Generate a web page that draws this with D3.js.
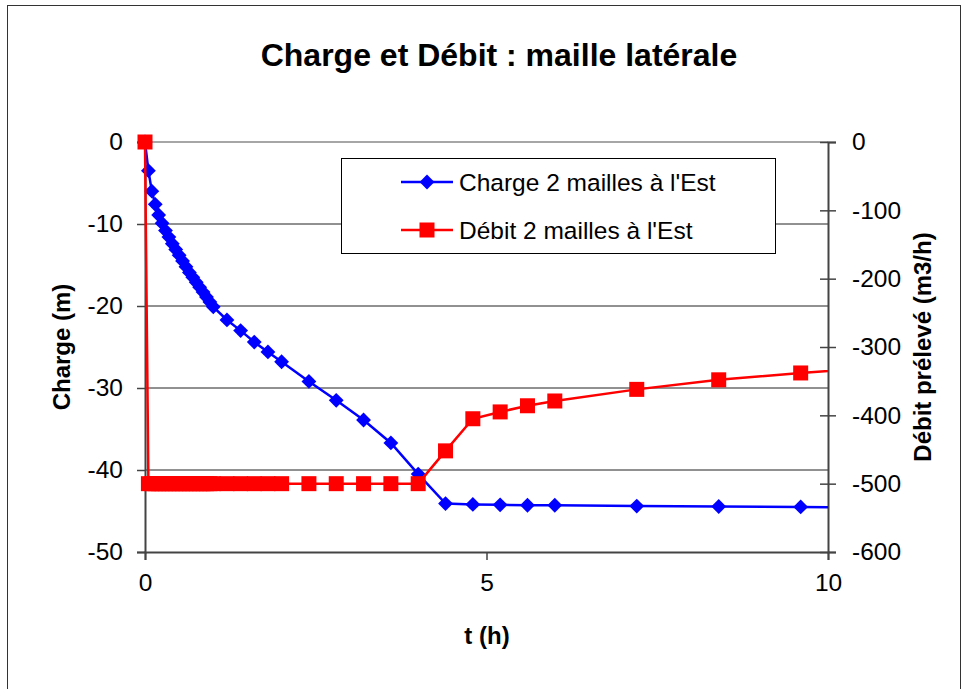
<!DOCTYPE html>
<html>
<head>
<meta charset="utf-8">
<script src="https://cdn.jsdelivr.net/npm/d3@7"></script>
<style>
html,body{margin:0;padding:0;background:#fff;}
svg{display:block;font-family:"Liberation Sans",Arial,sans-serif;}
</style>
</head>
<body>
<script>
// ---- data ----
const tCharge = [0, 0.05, 0.1, 0.15, 0.2, 0.25, 0.3, 0.35, 0.4, 0.45, 0.5, 0.55, 0.6, 0.65, 0.7, 0.75, 0.8, 0.85, 0.9, 0.95, 1.0,
  1.2, 1.4, 1.6, 1.8, 2.0, 2.4, 2.8, 3.2, 3.6, 4.0, 4.4, 4.8, 5.2, 5.6, 6.0, 7.2, 8.4, 9.6, 10.8];
const chargeValues = [0, -3.5, -6.0, -7.6, -8.9, -9.9, -10.8, -11.6, -12.4, -13.1, -13.8, -14.5, -15.2, -15.9, -16.5, -17.1, -17.7, -18.3, -18.9, -19.5, -20.1,
  -21.7, -23.0, -24.4, -25.6, -26.8, -29.2, -31.5, -33.9, -36.7, -40.5, -44.1, -44.2, -44.25, -44.3, -44.3, -44.4, -44.45, -44.5, -44.6];
const tDebit = [0, 0.05, 0.1, 0.15, 0.2, 0.25, 0.3, 0.35, 0.4, 0.45, 0.5, 0.55, 0.6, 0.65, 0.7, 0.75, 0.8, 0.85, 0.9, 0.95, 1.0,
  1.2, 1.4, 1.6, 1.8, 2.0, 2.4, 2.8, 3.2, 3.6, 4.0, 4.4, 4.8, 5.2, 5.6, 6.0, 7.2, 8.4, 9.6, 10.8];
const debitValues = [0, -500, -500, -500, -500, -500, -500, -500, -500, -500, -500, -500, -500, -500, -500, -500, -500, -500, -500, -500, -500,
  -500, -500, -500, -500, -500, -500, -500, -500, -500, -500, -452, -405, -395, -386, -379, -362, -348, -338, -329];
const xTicks = [0, 5, 10];
const yLeftTicks = [0, -10, -20, -30, -40, -50];
const yRightTicks = [0, -100, -200, -300, -400, -500, -600];
const seriesNames = ["Charge 2 mailles à l'Est", "Débit 2 mailles à l'Est"];
const titleText = "Charge et Débit : maille latérale";

// ---- layout ----
const W = 969, H = 689;
const L = 145, R = 828, T = 142, B = 552;
const blue = "#0000ff", red = "#ff0000";

const svg = d3.select("body").append("svg").attr("width", W).attr("height", H);
svg.append("rect").attr("x", 7.5).attr("y", 5.5).attr("width", 953).attr("height", 700)
  .attr("fill", "#fff").attr("stroke", "#333").attr("stroke-width", 1);

const x = d3.scaleLinear().domain([0, 10]).range([L, R]);
const yL = d3.scaleLinear().domain([-50, 0]).range([B, T]);
const yR = d3.scaleLinear().domain([-600, 0]).range([B, T]);

// gridlines
svg.append("g").selectAll("line").data(yLeftTicks.filter(d => d !== -50)).join("line")
  .attr("x1", L).attr("x2", R).attr("y1", d => yL(d)).attr("y2", d => yL(d))
  .attr("stroke", d => d === 0 ? "#888" : "#222").attr("stroke-width", d => d === 0 ? 1.5 : 1);

// axes
const fmt = d => String(d);
const gx = svg.append("g").attr("transform", `translate(0,${B})`)
  .call(d3.axisBottom(x).tickValues(xTicks).tickFormat(fmt).tickSize(8).tickPadding(14));
const gl = svg.append("g").attr("transform", `translate(${L},0)`)
  .call(d3.axisLeft(yL).tickValues(yLeftTicks).tickFormat(fmt).tickSize(8).tickPadding(14));
const gr = svg.append("g").attr("transform", `translate(${R},0)`)
  .call(d3.axisRight(yR).tickValues(yRightTicks).tickFormat(fmt).tickSize(8).tickPadding(16));
gr.selectAll(".tick line").attr("x1", -8);
[gx, gl, gr].forEach(g => {
  g.select(".domain").attr("stroke", "#444").attr("stroke-width", 2);
  g.selectAll(".tick line").attr("stroke", "#444").attr("stroke-width", 1.5);
  g.selectAll(".tick text").attr("font-size", 24.5).attr("fill", "#000")
    .attr("font-family", "Liberation Sans, Arial, sans-serif");
});

// clip
svg.append("clipPath").attr("id", "clip").append("rect")
  .attr("x", L - 10).attr("y", T - 10).attr("width", R - L + 10).attr("height", B - T + 20);
const plot = svg.append("g").attr("clip-path", "url(#clip)");

const chargeData = tCharge.map((t, i) => ({t, v: chargeValues[i]}));
const debitData = tDebit.map((t, i) => ({t, v: debitValues[i]}));

const lineC = d3.line().x(d => x(d.t)).y(d => yL(d.v));
const lineD = d3.line().x(d => x(d.t)).y(d => yR(d.v));

plot.append("path").datum(chargeData).attr("d", lineC).attr("fill", "none")
  .attr("stroke", blue).attr("stroke-width", 2.5);
plot.append("g").selectAll("path").data(chargeData.filter(d => d.t <= 10)).join("path")
  .attr("d", d3.symbol().type(d3.symbolSquare).size(110))
  .attr("transform", d => `translate(${x(d.t)},${yL(d.v)}) rotate(45)`)
  .attr("fill", blue);

plot.append("path").datum(debitData).attr("d", lineD).attr("fill", "none")
  .attr("stroke", red).attr("stroke-width", 2.5);
plot.append("g").selectAll("rect").data(debitData.filter(d => d.t <= 10)).join("rect")
  .attr("x", d => x(d.t) - 7.5).attr("y", d => yR(d.v) - 7.5)
  .attr("width", 15).attr("height", 15).attr("fill", red);

// legend
const lg = svg.append("g");
lg.append("rect").attr("x", 341.5).attr("y", 158.5).attr("width", 434).attr("height", 95)
  .attr("fill", "#fff").attr("stroke", "#000").attr("stroke-width", 1);
const rows = [{name: seriesNames[0], c: blue, y: 182, m: "d"}, {name: seriesNames[1], c: red, y: 230, m: "s"}];
rows.forEach(r => {
  lg.append("line").attr("x1", 401).attr("x2", 453).attr("y1", r.y).attr("y2", r.y)
    .attr("stroke", r.c).attr("stroke-width", 2.5);
  if (r.m === "d") {
    lg.append("path").attr("d", d3.symbol().type(d3.symbolSquare).size(110))
      .attr("transform", `translate(427,${r.y}) rotate(45)`).attr("fill", r.c);
  } else {
    lg.append("rect").attr("x", 419.5).attr("y", r.y - 7.5).attr("width", 15).attr("height", 15).attr("fill", r.c);
  }
  lg.append("text").attr("x", 459).attr("y", r.y).attr("dy", "0.35em")
    .attr("font-size", 24.5).attr("fill", "#000").text(r.name);
});

// titles
svg.append("text").attr("x", 499).attr("y", 55).attr("dy", "0.35em").attr("text-anchor", "middle")
  .attr("font-size", 32).attr("font-weight", "bold").text(titleText);
svg.append("text").attr("x", 487).attr("y", 636).attr("dy", "0.35em").attr("text-anchor", "middle")
  .attr("font-size", 24).attr("font-weight", "bold").text("t (h)");
svg.append("text").attr("transform", `translate(62,${(T + B) / 2}) rotate(-90)`).attr("dy", "0.35em")
  .attr("text-anchor", "middle").attr("font-size", 24).attr("font-weight", "bold").text("Charge (m)");
svg.append("text").attr("transform", `translate(923,${(T + B) / 2}) rotate(-90)`).attr("dy", "0.35em")
  .attr("text-anchor", "middle").attr("font-size", 24).attr("font-weight", "bold").text("Débit prélevé (m3/h)");
</script>
</body>
</html>
